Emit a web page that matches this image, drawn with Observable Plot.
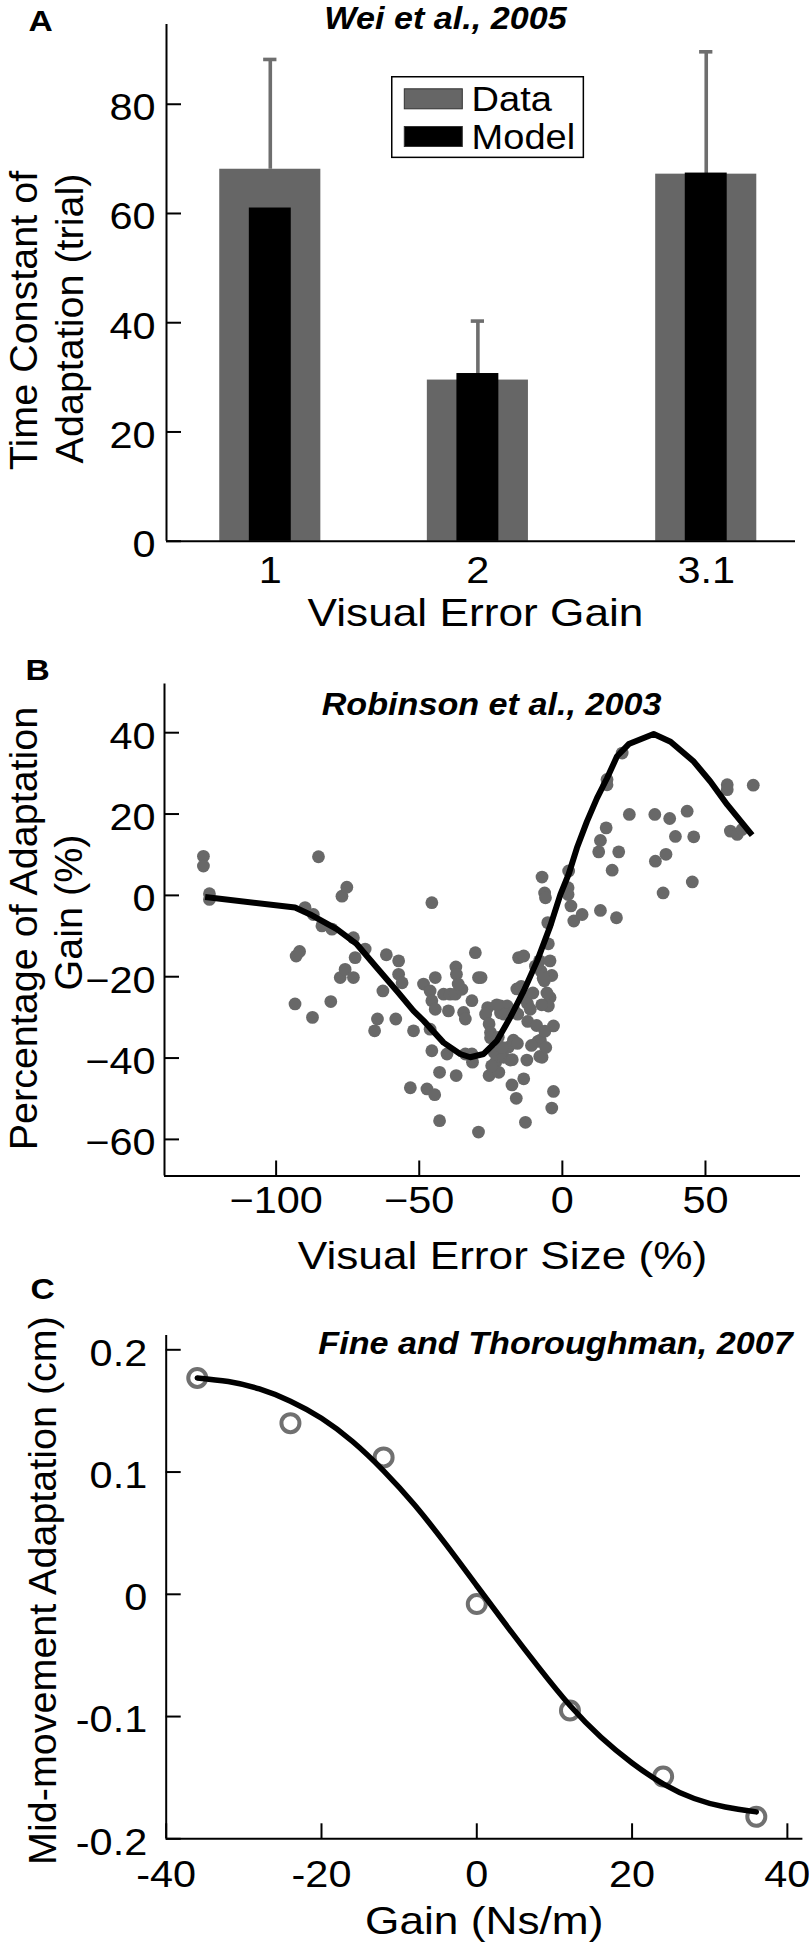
<!DOCTYPE html>
<html><head><meta charset="utf-8">
<script src="https://cdn.jsdelivr.net/npm/d3@7"></script>
<script src="https://cdn.jsdelivr.net/npm/@observablehq/plot@0.6"></script>
<style>
body{margin:0;background:#fff;}
#root{position:relative;width:809px;height:1943px;overflow:hidden;background:#fff;}
#root svg{position:absolute;left:0;display:block;overflow:visible;}
</style></head><body><div id="root"></div>
<script>
// ---------- Panel A: Wei et al., 2005 ----------
const gainLevels = [1, 2, 3.1];
const dataTau = [68.1, 29.5, 67.2];
const modelTau = [61.0, 30.7, 67.4];
const dataTauUpper = [88.2, 40.3, 89.6];
const yTicksA = [0, 20, 40, 60, 80];
const legendLabels = ["Data", "Model"];

// ---------- Panel B: Robinson et al., 2003 ----------
const errSize = [-125.4,-125.4,-123.3,-123.3,-93.4,-93.0,-91.8,-89.9,-87.0,-87.3,-85.2,-84.0,-80.5,-80.9,-77.0,-75.3,-77.6,-75.9,-73.0,-73.0,-72.4,-68.9,-65.6,-64.6,-62.7,-61.5,-58.2,-57.2,-57.2,-56.0,-53.1,-52.0,-47.3,
-48.5,-46.2,-45.6,-45.6,-44.4,-44.4,-46.2,-45.6,-44.6,-42.9,-42.9,-41.5,-39.2,-37.4,-35.1,-37.2,-37.0,-36.4,-39.8,-40.3,-37.1,-34.5,-33.9,-31.6,-30.4,-29.3,-28.4,-31.6,-33.9,-31.4,-29.3,-26.1,-26.8,-25.6,-25.1,-25.1,
-23.8,-23.3,-25.6,-22.2,-20.5,-18.8,-17.1,-18.2,-17.6,-16.1,-13.5,-12.9,-12.4,-7.7,-7.1,-21.6,-19.3,-20.4,-16.8,-15.6,-15.9,-13.4,-12.2,-15.3,-13.5,-8.0,-7.5,-6.3,-4.3,-3.7,-4.3,-4.9,-3.1,-3.1,-3.7,-14.4,-12.1,-11.2,-10.3,-9.0,-8.5,-7.9,-10.8,-15.7,-17.5,-21.1,-22.4,-21.6,-22.9,-24.7,-7.2,-6.7,-6.1,-5.4,-5.8,-9.4,-4.9,-5.1,-7.1,-6.2,-5.9,
2.2,2.0,2.0,3.0,4.0,6.9,13.3,18.9,12.7,13.3,15.3,19.7,17.4,15.6,15.6,20.9,23.4,32.3,32.5,36.2,35.2,37.5,39.5,43.6,45.9,45.4,57.6,57.6,58.7,61.1,62.8,66.7];
const adaptPct = [9.6,7.2,0.4,-1.0,-26.7,-14.9,-13.8,-3.0,-4.7,-30.0,9.5,-7.5,-8.3,-26.1,-0.2,2.0,-20.2,-18.2,-20.2,-10.4,-15.3,-13.2,-33.3,-30.4,-23.5,-14.6,-30.4,-16.1,-19.4,-21.5,-47.3,-33.3,-47.6,
-21.8,-23.5,-25.9,-1.8,-20.2,-28.0,-32.9,-38.2,-49.0,-43.5,-55.4,-24.3,-24.3,-24.3,-23.1,-17.6,-19.4,-21.8,-28.4,-39.0,-44.3,-28.8,-30.4,-25.9,-14.1,-20.2,-20.2,-39.0,-39.0,-41.0,-58.2,-27.6,-29.2,-31.6,-33.7,-35.0,
-38.6,-41.0,-44.3,-43.5,-39.8,-37.3,-35.6,-40.5,-46.6,-49.9,-45.1,-55.8,-40.5,-35.6,-39.8,-27.2,-27.2,-29.2,-28.4,-29.2,-23.0,-25.2,-26.6,-15.3,-14.9,-16.1,-18.6,-21.0,-16.1,-19.7,-25.1,-27.2,-32.1,-48.2,-52.3,-22.4,-31.0,-28.0,-24.0,-32.0,-35.9,-39.6,-36.9,-36.4,-40.4,-37.4,-34.9,-28.9,-26.9,-41.9,-26.9,-20.4,-33.4,-24.0,-37.4,-17.4,-11.9,-6.7,4.5,0.6,-0.6,
6.0,1.9,0.2,-2.6,-6.3,-4.7,-3.7,-5.5,10.7,13.5,16.6,10.7,6.2,28.5,27.2,35.0,19.9,19.9,8.4,10.1,0.6,18.9,14.5,20.7,14.4,3.3,27.2,26.0,15.8,15.0,16.2,27.1];
const fitErr = [-124.8,-93.4,-88.1,-78.8,-71.8,-64.8,-57.8,-52,-48.5,-41.5,-35.7,-32.2,-27.5,-22.8,-18.2,-13.5,-8.8,-4.2,-0.7,2.2,5.1,8.6,12.1,15.6,19.1,23.2,31.9,37.8,45.9,51.7,57.6,66.3];
const fitGain = [-0.4,-3.0,-4.7,-8.3,-12.0,-17.8,-23.5,-28.4,-30.8,-36.2,-39.0,-39.8,-39.0,-35.7,-30.0,-23.5,-16.1,-7.5,0.2,5.2,11.7,18.2,23.9,28.8,34.2,37.2,39.7,37.8,32.9,28.0,22.3,14.8];
const xTicksB = [-100, -50, 0, 50];
const yTicksB = [-60, -40, -20, 0, 20, 40];

// ---------- Panel C: Fine and Thoroughman, 2007 ----------
const gainC = [-36, -24, -12, 0, 12, 24, 36];
const midAdapt = [0.177, 0.140, 0.112, -0.008, -0.095, -0.149, -0.182];
const curveGainC = [-36,-32,-28,-24,-20,-16,-12,-8,-4,0,4,8,12,16,20,24,28,32,36];
const curveAdaptC = [0.177,0.174,0.168,0.158,0.144,0.125,0.101,0.073,0.041,0.007,-0.027,-0.060,-0.091,-0.117,-0.138,-0.155,-0.167,-0.174,-0.178];
const xTicksC = [-40, -20, 0, 20, 40];
const yTicksC = [-0.2, -0.1, 0, 0.1, 0.2];

// ---------- scale domains ----------
const xDomA = [0.5, 3.53], yDomA = [0, 94.6];
const xDomB = [-139, 83.2], yDomB = [-69, 52];
const xDomC = [-40, 42], yDomC = [-0.2, 0.2117];

// ---------- styles ----------
const FONT = "'Liberation Sans', Arial, Helvetica, sans-serif";
const TICK_FS = 37, LABEL_FS = 39.5, TITLE_FS = 30.5, LETTER_FS = 30, LEGEND_FS = 35;
const SX = 1.12; // horizontal glyph stretch seen in the reference
const TICK_LEN = 15, AXIS_W = 2;
const GRAY_BAR = "#666666", GRAY_ERR = "#6e6e6e", GRAY_DOT = "#686868", GRAY_RING = "#707070";
const baseStyle = {fontFamily: FONT, background: "white", color: "black", overflow: "visible"};
const fmtMinus = d => (d < 0 ? "\u2212" : "") + Math.abs(d);
const fmtPlain = d => String(d);

function txt(s, o) {
  return Plot.text([s], {text: d => d, frameAnchor: "top-left", ...o});
}
function stretchText(svg) {
  svg.querySelectorAll("text").forEach(t => {
    let tr = t.getAttribute("transform");
    if (!tr) {
      const x = +(t.getAttribute("x") || 0), y = +(t.getAttribute("y") || 0);
      t.removeAttribute("x"); t.removeAttribute("y");
      tr = `translate(${x},${y})`;
    }
    if (/rotate\(/.test(tr)) return; // vertical labels keep natural proportions
    t.setAttribute("transform", tr + ` scale(${SX},1)`);
  });
}
function axisLines(xDom, yDom) {
  return [
    Plot.ruleX([xDom[0]], {x: d => d, stroke: "black", strokeWidth: AXIS_W}),
    Plot.ruleY([yDom[0]], {y: d => d, stroke: "black", strokeWidth: AXIS_W})
  ];
}

const root = document.getElementById("root");

// ---------- Panel A ----------
const mA = {top: 24, bottom: 99.3, left: 166, right: 14};
const fwA = 809 - mA.left - mA.right;
const rowsA = gainLevels.map((g, i) => ({g, data: dataTau[i], model: modelTau[i], upper: dataTauUpper[i]}));
const HW_DATA = 0.2435, HW_MODEL = 0.101, HW_CAP = 0.032;
const A = Plot.plot({
  width: 809, height: 640,
  marginTop: mA.top, marginBottom: mA.bottom, marginLeft: mA.left, marginRight: mA.right,
  style: baseStyle,
  x: {domain: xDomA},
  y: {domain: yDomA},
  marks: [
    Plot.ruleX(rowsA, {x: "g", y1: "data", y2: "upper", stroke: GRAY_ERR, strokeWidth: 3.6}),
    Plot.ruleY(rowsA, {y: "upper", x1: d => d.g - HW_CAP, x2: d => d.g + HW_CAP, stroke: GRAY_ERR, strokeWidth: 3.6}),
    Plot.rect(rowsA, {x1: d => d.g - HW_DATA, x2: d => d.g + HW_DATA, y1: 0, y2: "data", fill: GRAY_BAR}),
    Plot.rect(rowsA, {x1: d => d.g - HW_MODEL, x2: d => d.g + HW_MODEL, y1: 0, y2: "model", fill: "black"}),
    ...axisLines(xDomA, yDomA),
    Plot.tickY(yTicksA, {y: d => d, insetRight: fwA - TICK_LEN, stroke: "black", strokeWidth: AXIS_W}),
    Plot.axisY({ticks: yTicksA, tickSize: 0, tickPadding: 11, dy: 4, tickFormat: fmtPlain, fontSize: TICK_FS, label: null}),
    Plot.axisX({ticks: gainLevels, tickSize: 0, tickPadding: 15.7, tickFormat: fmtPlain, fontSize: TICK_FS, label: null}),
    txt("Time Constant of", {dx: -130, dy: 296, rotate: -90, textAnchor: "middle", lineAnchor: "bottom", fontSize: LABEL_FS}),
    txt("Adaptation (trial)", {dx: -84, dy: 294, rotate: -90, textAnchor: "middle", lineAnchor: "bottom", fontSize: LABEL_FS}),
    txt("Visual Error Gain", {dx: 309, dy: 601, textAnchor: "middle", lineAnchor: "bottom", fontSize: LABEL_FS}),
    txt("Wei et al., 2005", {dx: 279, dy: 4, textAnchor: "middle", lineAnchor: "bottom", fontSize: TITLE_FS, fontWeight: "bold", fontStyle: "italic"}),
    txt("A", {dx: -138, dy: 6, textAnchor: "start", lineAnchor: "bottom", fontSize: LETTER_FS, fontWeight: "bold"})
  ]
});
stretchText(A);
A.style.top = "0px";
root.appendChild(A);

// legend for panel A
const legFill = [GRAY_BAR, "black"];
const leg = d3.create("svg").attr("width", 194).attr("height", 83)
  .style("left", "391px").style("top", "76px").style("font-family", FONT);
leg.append("rect").attr("x", 0.75).attr("y", 0.75).attr("width", 191.6).attr("height", 80.6)
  .attr("fill", "white").attr("stroke", "black").attr("stroke-width", 1.5);
legendLabels.forEach((lab, i) => {
  leg.append("rect").attr("x", 13.3).attr("y", 12.8 + i * 37.7).attr("width", 58).attr("height", 20)
    .attr("fill", legFill[i]).attr("stroke", "#333").attr("stroke-width", 1);
  leg.append("text").attr("transform", `translate(80.6,${35 + i * 38}) scale(${SX * 0.97},1)`)
    .attr("font-size", LEGEND_FS).attr("fill", "black").text(lab);
});
root.appendChild(leg.node());

// ---------- Panel B ----------
const mB = {top: 43.4, bottom: 104.5, left: 164, right: 9};
const fwB = 809 - mB.left - mB.right, fhB = 640 - mB.top - mB.bottom;
const rowsB = errSize.map((x, i) => ({x, y: adaptPct[i]}));
const curveB = fitErr.map((x, i) => ({x, y: fitGain[i]}));
const B = Plot.plot({
  width: 809, height: 640,
  marginTop: mB.top, marginBottom: mB.bottom, marginLeft: mB.left, marginRight: mB.right,
  style: baseStyle,
  x: {domain: xDomB},
  y: {domain: yDomB},
  marks: [
    Plot.dot(rowsB, {x: "x", y: "y", r: 6.4, fill: GRAY_DOT, stroke: "none"}),
    Plot.line(curveB, {x: "x", y: "y", stroke: "black", strokeWidth: 6, strokeLinejoin: "round", strokeLinecap: "butt"}),
    ...axisLines(xDomB, yDomB),
    Plot.tickY(yTicksB, {y: d => d, insetRight: fwB - TICK_LEN, stroke: "black", strokeWidth: AXIS_W}),
    Plot.tickX(xTicksB, {x: d => d, insetTop: fhB - TICK_LEN, stroke: "black", strokeWidth: AXIS_W}),
    Plot.axisY({ticks: yTicksB, tickSize: 0, tickPadding: 9, dy: 4, tickFormat: fmtMinus, fontSize: TICK_FS, label: null}),
    Plot.axisX({ticks: xTicksB, tickSize: 0, tickPadding: 11.2, tickFormat: fmtMinus, fontSize: TICK_FS, label: null}),
    txt("Percentage of Adaptation", {dx: -127.5, dy: 244.6, rotate: -90, textAnchor: "middle", lineAnchor: "bottom", fontSize: LABEL_FS}),
    txt("Gain (%)", {dx: -82.4, dy: 228.6, rotate: -90, textAnchor: "middle", lineAnchor: "bottom", fontSize: LABEL_FS}),
    txt("Visual Error Size (%)", {dx: 338, dy: 584.6, textAnchor: "middle", lineAnchor: "bottom", fontSize: LABEL_FS}),
    txt("Robinson et al., 2003", {dx: 327, dy: 30.6, textAnchor: "middle", lineAnchor: "bottom", fontSize: TITLE_FS, fontWeight: "bold", fontStyle: "italic"}),
    txt("B", {dx: -139, dy: -4.4, textAnchor: "start", lineAnchor: "bottom", fontSize: LETTER_FS, fontWeight: "bold"})
  ]
});
stretchText(B);
B.style.top = "640px";
root.appendChild(B);

// ---------- Panel C ----------
const mC = {top: 55, bottom: 104.7, left: 165.7, right: 6.6};
const fwC = 809 - mC.left - mC.right, fhC = 663 - mC.top - mC.bottom;
const rowsC = gainC.map((x, i) => ({x, y: midAdapt[i]}));
const curveC = curveGainC.map((x, i) => ({x, y: curveAdaptC[i]}));
const C = Plot.plot({
  width: 809, height: 663,
  marginTop: mC.top, marginBottom: mC.bottom, marginLeft: mC.left, marginRight: mC.right,
  style: baseStyle,
  x: {domain: xDomC},
  y: {domain: yDomC},
  marks: [
    Plot.dot(rowsC, {x: "x", y: "y", r: 9, fill: "none", stroke: GRAY_RING, strokeWidth: 4}),
    Plot.line(curveC, {x: "x", y: "y", stroke: "black", strokeWidth: 5.5, curve: "natural"}),
    ...axisLines(xDomC, yDomC),
    Plot.tickY(yTicksC, {y: d => d, insetRight: fwC - TICK_LEN, stroke: "black", strokeWidth: AXIS_W}),
    Plot.tickX(xTicksC, {x: d => d, insetTop: fhC - TICK_LEN, stroke: "black", strokeWidth: AXIS_W}),
    Plot.axisY({ticks: yTicksC, tickSize: 0, tickPadding: 19, dy: 4, tickFormat: fmtPlain, fontSize: TICK_FS, label: null}),
    Plot.axisX({ticks: xTicksC, tickSize: 0, tickPadding: 22.1, tickFormat: fmtPlain, fontSize: TICK_FS, label: null}),
    txt("Mid-movement Adaptation (cm)", {dx: -110.7, dy: 255, rotate: -90, textAnchor: "middle", lineAnchor: "bottom", fontSize: LABEL_FS}),
    txt("Gain (Ns/m)", {dx: 318, dy: 598.5, textAnchor: "middle", lineAnchor: "bottom", fontSize: LABEL_FS}),
    txt("Fine and Thoroughman, 2007", {dx: 626.5, dy: 18.5, textAnchor: "end", lineAnchor: "bottom", fontSize: TITLE_FS, fontWeight: "bold", fontStyle: "italic"}),
    txt("C", {dx: -135.7, dy: -37, textAnchor: "start", lineAnchor: "bottom", fontSize: LETTER_FS, fontWeight: "bold"})
  ]
});
stretchText(C);
C.style.top = "1280px";
root.appendChild(C);
</script>
</body></html>
